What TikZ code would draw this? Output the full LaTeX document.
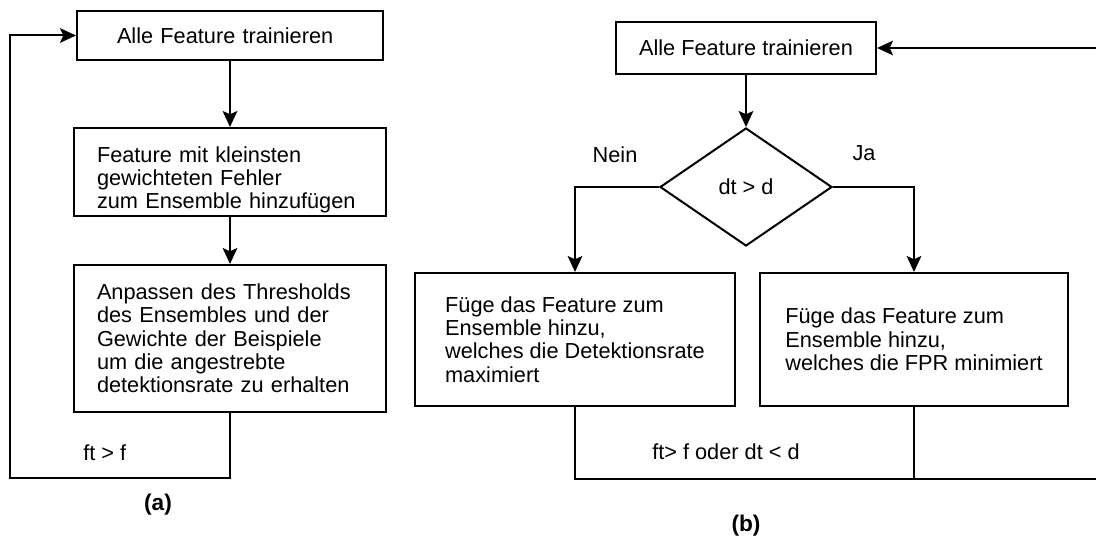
\documentclass[tikz,border=0pt]{standalone}
\usepackage{fontspec}
\setmainfont{Liberation Sans}
\usetikzlibrary{arrows.meta,shapes.geometric}
\begin{document}
\begin{tikzpicture}[x=0.75pt,y=-0.75pt,
  every node/.style={font=\fontsize{16.3}{17.5}\selectfont},
  box/.style={draw,line width=1.5pt,rectangle,inner sep=0pt,align=left},
  decision/.style={draw,line width=1.5pt,diamond,inner sep=0pt,
    minimum width=129pt,minimum height=88.5pt},
  ln/.style={line width=1.5pt},
  arr/.style={ln,-{Stealth[length=12pt,width=11pt,inset=2.5pt]}},
  lbl/.style={inner sep=0pt},
  caption/.style={inner sep=0pt,font=\bfseries\fontsize{17}{19}\selectfont},
  ]
\useasboundingbox (0,0) rectangle (1096,538);
\clip (0,0) rectangle (1096,538);

% ---------- (a) ----------
\node[box,minimum width=229.5pt,minimum height=36.75pt,text width=169.5pt]
  (A1) at (230,35.5) {Alle Feature trainieren};
\node[box,minimum width=234pt,minimum height=66pt]
  (A2) at (230,172) {};
\node[lbl,align=left,text width=199.5pt]
  (A2t) at (230,180) {Feature mit kleinsten\\gewichteten Fehler\\zum Ensemble hinzufügen};
\node[box,minimum width=234pt,minimum height=110.25pt,text width=199.5pt]
  (A3) at (230,338.5) {Anpassen des Thresholds\\des Ensembles und der\\Gewichte der Beispiele\\um die angestrebte\\detektionsrate zu erhalten};

\draw[arr] (A1) -- (A2);
\draw[arr] (A2) -- (A3);
\coordinate (la) at (10,478);
\draw[arr] (A3.south) |- (la) |- (A1.west);
\node[lbl,anchor=west] (ca) at (83,453) {ft > f};
\node[caption] (capa) at (158,505) {(a)};

% ---------- (b) ----------
\node[box,align=center,minimum width=195pt,minimum height=39pt]
  (B1) at (746,48) {Alle Feature trainieren};
\node[decision] (D) at (746,187) {dt > d};
\node[box,minimum width=240pt,minimum height=99.75pt]
  (BL) at (575,339.5) {Füge das Feature zum\\Ensemble hinzu,\\welches die Detektionsrate\\maximiert};
\node[box,minimum width=231pt,minimum height=99.75pt]
  (BR) at (914,339.5) {Füge das Feature zum\\Ensemble hinzu,\\welches die FPR minimiert};

\draw[arr] (B1) -- (D);
\draw[arr] (D.west) -| (BL.north);
\draw[arr] (D.east) -| (BR.north);
\node[lbl] (nein) at (615,155) {Nein};
\node[lbl] (ja) at (864,153) {Ja};

\coordinate (rb) at (1104,479);
\coordinate (rt) at (1104,48);
\draw[ln] (BL.south) |- (rb);
\draw[ln] (BR.south) -- (BR.south |- rb);
\draw[arr] (rb) -- (rt) -- (B1.east);
\node[lbl,anchor=west] (cb) at (652,452) {ft> f oder dt < d};
\node[caption] (capb) at (746,526) {(b)};
\end{tikzpicture}
\end{document}
